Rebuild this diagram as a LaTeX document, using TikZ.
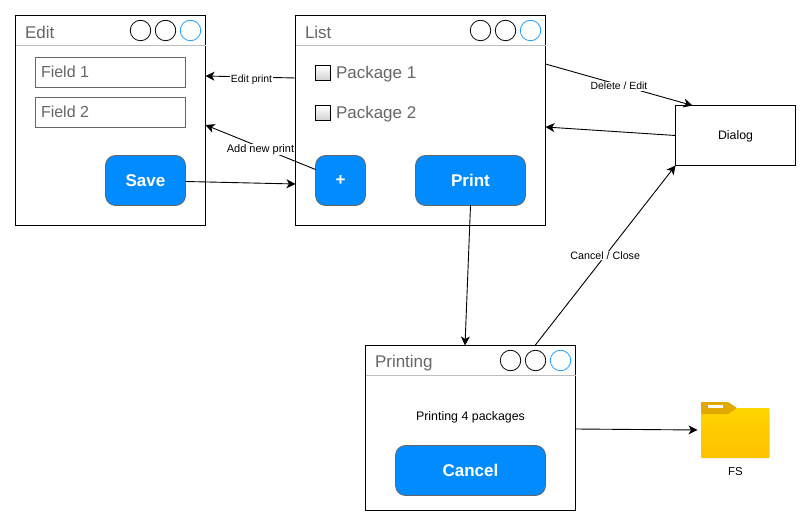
\documentclass[tikz,border=0pt]{standalone}
\usepackage{fontspec}
\setmainfont{Liberation Sans}
\usetikzlibrary{arrows.meta}
\definecolor{btn}{HTML}{008CFF}
\definecolor{soft}{HTML}{666666}
\definecolor{rulec}{HTML}{BDBDBD}
\definecolor{blueo}{HTML}{1E9BFF}
\definecolor{foldertop}{HTML}{FFD500}
\definecolor{folderbot}{HTML}{FFC000}
\definecolor{foldertab}{HTML}{E0A800}
\tikzset{
  x=1pt,y=-1pt,
  every node/.style={inner sep=0pt,outer sep=0pt,font=\fontsize{10.7}{12}\selectfont},
  win/.style={draw=black,line width=1pt,fill=white},
  dialogbox/.style={draw=black,line width=0.9pt,fill=white,minimum width=120pt,minimum height=60pt,font=\fontsize{12.3}{14}\selectfont},
  titletext/.style={anchor=west,text=soft,font=\fontsize{17}{20}\selectfont},
  bodytext/.style={anchor=west,text=soft,font=\fontsize{16}{19}\selectfont},
  pkgtext/.style={anchor=west,text=soft,font=\fontsize{17}{20}\selectfont},
  dot/.style={circle,draw=black,line width=0.8pt,minimum size=20.5pt,fill=white},
  bluedot/.style={dot,draw=blueo},
  field/.style={draw=soft,line width=0.9pt,fill=white,minimum width=150pt,minimum height=30pt},
  chk/.style={draw=black,line width=0.8pt,minimum size=15pt,top color=white,bottom color=black!18},
  btnbox/.style={draw=soft,line width=0.8pt,fill=btn,rounded corners=10pt,minimum height=50pt,text=white,font=\bfseries\fontsize{17}{20}\selectfont},
  link/.style={draw=black,line width=0.9pt,-{Stealth[length=9pt,width=9pt,inset=2.5pt]}},
  lbl/.style={fill=white,inner sep=0.5pt,font=\fontsize{10.7}{12}\selectfont},
}
\begin{document}
\begin{tikzpicture}
\useasboundingbox (0,0) rectangle (811,526);
\fill[white] (0,0) rectangle (811,526);

% Edit window
\node[win,minimum width=190pt,minimum height=210pt] (edit) at (110.5,120.5) {};
\draw[rulec,line width=0.9pt] (edit.north west |- 0,45.5) -- (edit.north east |- 0,45.5);
\node[titletext] (edittitle) at (25,32) {Edit};
\node[dot] (ea) at (140.5,30.5) {};
\node[dot] (eb) at (165.5,30.5) {};
\node[bluedot] (ec) at (190.5,30.5) {};
\node[field] (f1) at (110.5,72.5) {};
\node[bodytext] (f1t) at (41,71.5) {Field 1};
\node[field] (f2) at (110.5,112.8) {};
\node[bodytext] (f2t) at (41,111.5) {Field 2};
\node[btnbox,minimum width=80pt] (save) at (145.5,180.5) {Save};

% List window
\node[win,minimum width=250pt,minimum height=210pt] (list) at (420.5,120.5) {};
\draw[rulec,line width=0.9pt] (list.north west |- 0,45.5) -- (list.north east |- 0,45.5);
\node[titletext] (listtitle) at (305,32) {List};
\node[dot] (la) at (480.5,30.5) {};
\node[dot] (lb) at (505.5,30.5) {};
\node[bluedot] (lc) at (530.5,30.5) {};
\node[chk] (c1) at (323,73) {};
\node[pkgtext] (c1t) at (336,74.5) {Package 1};
\node[chk] (c2) at (323,113) {};
\node[pkgtext] (c2t) at (336,114.5) {Package 2};
\node[btnbox,minimum width=50pt] (plus) at (340.5,180.5) {+};
\node[btnbox,minimum width=110pt] (print) at (470.5,180.5) {Print};

% Printing window
\node[win,minimum width=210pt,minimum height=165pt] (printing) at (470.5,428) {};
\draw[rulec,line width=0.9pt] (printing.north west |- 0,375.5) -- (printing.north east |- 0,375.5);
\node[titletext] (ptitle) at (375,363) {Printing};
\node[dot] (pa) at (510.5,360.5) {};
\node[dot] (pb) at (535.5,360.5) {};
\node[bluedot] (pc) at (560.5,360.5) {};
\node (ptext) at (470.5,417) {\fontsize{12.4}{14}\selectfont Printing 4 packages};
\node[btnbox,minimum width=150pt] (cancel) at (470.5,470.5) {Cancel};

% Dialog
\node[dialogbox] (dialog) at (735.5,135.5) {\raisebox{-4.5pt}[6pt][6pt]{Dialog}};

% FS folder
\node[minimum width=68.5pt,minimum height=50pt,top color=foldertop,bottom color=folderbot,rounded corners=1pt] (fs) at (735.25,433) {};
\fill[rounded corners=0.8pt,foldertab] (701,414) -- (701,402) -- (728,402) -- (737,408) -- (728,414) -- cycle;
\fill[white] (708,405) rectangle (723,408);
\node (fslabel) at (735.5,471.5) {\fontsize{11.5}{13}\selectfont FS};

% Connectors
\draw[link] ([yshift=42.5pt]list.west) -- node[lbl,pos=0.5,xshift=1pt,yshift=-2.5pt,font=\fontsize{10.4}{12}\selectfont] (l1) {Edit print} ([yshift=44.5pt]edit.east);
\draw[link] ([yshift=11pt]plus.west) -- node[lbl,pos=0.5,yshift=-2.5pt,font=\fontsize{11}{13}\selectfont] (l2) {Add new print} ([yshift=-4.5pt]edit.east);
\draw[link] (save.east |- 0,181.5) -- ([yshift=-63.5pt]list.west);
\draw[link] ([yshift=56.5pt]list.east) -- node[lbl,pos=0.5,yshift=-1.5pt,font=\fontsize{10.4}{12}\selectfont] (l3) {Delete / Edit} ([xshift=-43pt]dialog.north);
\draw[link] (dialog.west) -- ([yshift=-6.5pt]list.east);
\draw[link] (print.south) -- ([xshift=-5.5pt]printing.north);
\draw[link] ([xshift=64.5pt]printing.north) -- node[lbl,pos=0.5] (l4) {Cancel / Close} (dialog.south west);
\draw[link] ([yshift=-1pt]printing.east) -- ([xshift=-3.5pt,yshift=3pt]fs.west);
\end{tikzpicture}
\end{document}
